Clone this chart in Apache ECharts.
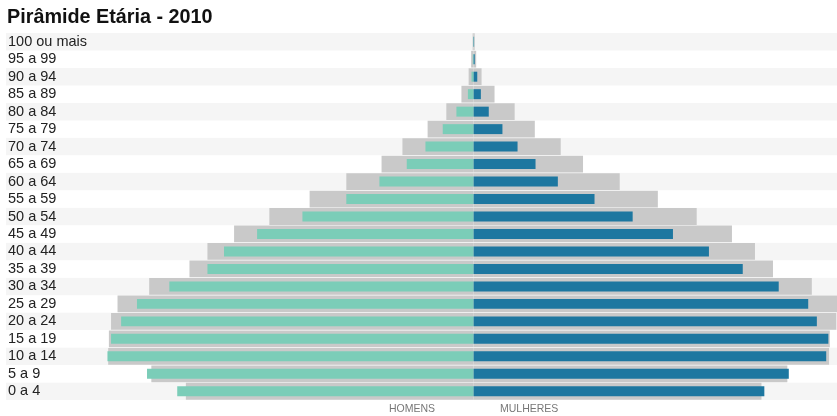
<!DOCTYPE html>
<html>
<head>
<meta charset="utf-8">
<script src="https://cdn.jsdelivr.net/npm/echarts@6/dist/echarts.min.js"></script>
<style>html,body{margin:0;padding:0;background:#fff;}#c{width:837px;height:416px;}</style>
</head>
<body>
<div id="c"></div>
<script>
// Age groups, bottom (0 a 4) to top (100 ou mais)
const categories = ['0 a 4','5 a 9','10 a 14','15 a 19','20 a 24','25 a 29','30 a 34','35 a 39','40 a 44','45 a 49','50 a 54','55 a 59','60 a 64','65 a 69','70 a 74','75 a 79','80 a 84','85 a 89','90 a 94','95 a 99','100 ou mais'];
// Local population (% of total), men and women
const homens   = [4.12,4.54,5.09,5.04,4.90,4.68,4.23,3.70,3.47,3.01,2.38,1.77,1.31,0.93,0.67,0.43,0.24,0.08,0.03,0.012,0.006];
const mulheres = [4.04,4.38,4.90,4.93,4.77,4.65,4.24,3.74,3.27,2.77,2.21,1.68,1.17,0.86,0.61,0.40,0.21,0.10,0.05,0.015,0.006];
// Reference population (grey background bars)
const refHomens   = [4.00,4.48,5.08,5.07,5.04,4.95,4.51,3.95,3.70,3.33,2.84,2.28,1.77,1.28,0.99,0.64,0.38,0.17,0.07,0.035,0.014];
const refMulheres = [4.00,4.36,4.94,4.95,5.04,5.05,4.70,4.16,3.91,3.59,3.10,2.56,2.03,1.52,1.21,0.85,0.57,0.29,0.11,0.035,0.014];

const neg = a => a.map(v => -v);
const chart = echarts.init(document.getElementById('c'), null, {renderer:'canvas'});
const FONT = "'Liberation Sans', Arial, sans-serif";
chart.setOption({
  animation: false,
  title: {
    text: 'Pirâmide Etária - 2010',
    left: 7, top: 8, padding: 0,
    textStyle: {fontFamily: FONT, fontSize: 19.8, fontWeight: 'bold', color: '#111'}
  },
  grid: {left: 6, right: 0, top: 33, bottom: 16, containLabel: false},
  xAxis: {
    type: 'value', min: -6.5, max: 5.05, show: false
  },
  yAxis: [{
    type: 'category', data: categories, position: 'left',
    axisLine: {show: false, onZero: false}, axisTick: {show: false},
    axisLabel: {inside: true, interval: 0, margin: 2, fontFamily: FONT, fontSize: 14.5, color: '#222'},
    splitLine: {show: false},
    splitArea: {show: true, interval: 0, areaStyle: {color: ['#f5f5f5', '#ffffff']}}
  }, {
    type: 'category', data: categories, show: false,
    axisLine: {onZero: false}
  }],
  series: [
    {name: 'ref homens', type: 'bar', yAxisIndex: 0, stack: 'ref', barWidth: '96%', data: neg(refHomens), itemStyle: {color: '#c9c9c9'}, silent: true},
    {name: 'ref mulheres', type: 'bar', yAxisIndex: 0, stack: 'ref', barWidth: '96%', data: refMulheres, itemStyle: {color: '#c9c9c9'}, silent: true},
    {name: 'Homens', type: 'bar', yAxisIndex: 1, stack: 'loc', barWidth: '57%', data: neg(homens), itemStyle: {color: '#7bcdb8'}, z: 3},
    {name: 'Mulheres', type: 'bar', yAxisIndex: 1, stack: 'loc', barWidth: '57%', data: mulheres, itemStyle: {color: '#1d77a0'}, z: 3}
  ],
  graphic: [
    {type: 'text', left: 389, top: 404, style: {text: 'HOMENS', font: "10.5px " + FONT, fill: '#777'}},
    {type: 'text', left: 500, top: 404, style: {text: 'MULHERES', font: "10.5px " + FONT, fill: '#777'}}
  ]
});
</script>
</body>
</html>
